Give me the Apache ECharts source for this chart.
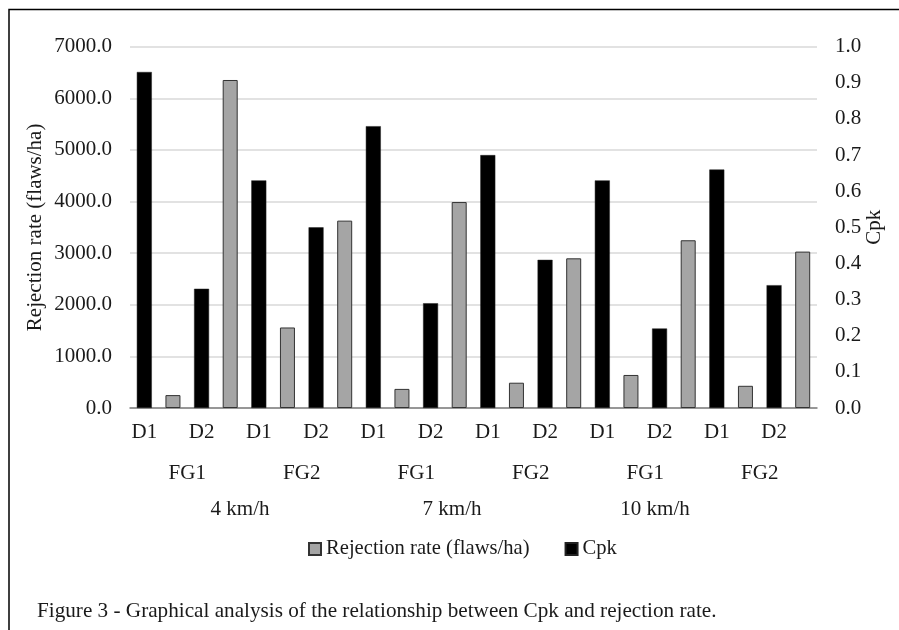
<!DOCTYPE html>
<html>
<head>
<meta charset="utf-8">
<script src="https://cdn.jsdelivr.net/npm/echarts@6/dist/echarts.min.js"></script>
<style>
html,body{margin:0;padding:0;background:#fff;}
#chart{width:899px;height:630px;}
</style>
</head>
<body>
<div id="chart"></div>
<script>
// ---- data ----
const dLabels = ['D1','D2','D1','D2','D1','D2','D1','D2','D1','D2','D1','D2'];
const fgLabels = ['FG1','FG2','FG1','FG2','FG1','FG2'];
const speedLabels = ['4 km/h','7 km/h','10 km/h'];
const rejection = [250, 6355, 1560, 3630, 370, 3990, 490, 2900, 640, 3250, 430, 3030];
const cpk = [0.93, 0.33, 0.63, 0.50, 0.78, 0.29, 0.70, 0.41, 0.63, 0.22, 0.66, 0.34];
const leftTicks = {min: 0, max: 7000, interval: 1000};
const rightTicks = {min: 0, max: 1, interval: 0.1};
const caption = 'Figure 3 - Graphical analysis of the relationship between Cpk and rejection rate.';

// each D label occupies two slots: Cpk bar then rejection bar
const slotLabels = [], cpkSlots = [], rejSlots = [];
dLabels.forEach((d, i) => {
  slotLabels.push(d); slotLabels.push('');
  cpkSlots.push(cpk[i]); cpkSlots.push(null);
  rejSlots.push(null); rejSlots.push(rejection[i]);
});

const FONT = '"Liberation Serif", "Times New Roman", serif';
const TXT = '#1a1a1a';
const FS = 21;

const chart = echarts.init(document.getElementById('chart'));
const speedX = [240, 452, 655];

chart.setOption({
  animation: false,
  textStyle: {fontFamily: FONT},
  grid: {left: 130, right: 82, top: 46.7, bottom: 222, containLabel: false},
  legend: {
    left: 308, top: 538.5, padding: 0,
    itemWidth: 12, itemHeight: 12, itemGap: 35,
    icon: 'rect',
    textStyle: {fontFamily: FONT, fontSize: 20.6, color: TXT},
    data: ['Rejection rate (flaws/ha)', 'Cpk']
  },
  xAxis: [
    {
      type: 'category', data: slotLabels, position: 'bottom', offset: 5,
      axisLine: {show: true, lineStyle: {color: '#7f7f7f', width: 1.5}},
      axisTick: {show: false},
      axisLabel: {interval: 0, margin: 8.5, fontFamily: FONT, fontSize: FS, color: TXT},
      splitLine: {show: false}
    },
    {
      type: 'category', data: fgLabels, position: 'bottom', offset: 45,
      axisLine: {show: false}, axisTick: {show: false},
      axisLabel: {interval: 0, margin: 9.5, fontFamily: FONT, fontSize: FS, color: TXT},
      splitLine: {show: false}
    }
  ],
  yAxis: [
    {
      type: 'value', min: leftTicks.min, max: leftTicks.max, interval: leftTicks.interval,
      name: 'Rejection rate (flaws/ha)', nameLocation: 'middle', nameGap: 84, nameRotate: 90,
      nameMoveOverlap: false,
      nameTextStyle: {fontFamily: FONT, fontSize: FS, color: TXT},
      axisLine: {show: false}, axisTick: {show: false},
      axisLabel: {margin: 18, fontFamily: FONT, fontSize: FS, color: TXT, formatter: v => v.toFixed(1)},
      splitLine: {show: true, lineStyle: {color: '#d9d9d9', width: 1.5}}
    },
    {
      type: 'value', min: rightTicks.min, max: rightTicks.max, interval: rightTicks.interval,
      position: 'right',
      name: 'Cpk', nameLocation: 'middle', nameGap: 47, nameRotate: 90,
      nameMoveOverlap: false,
      nameTextStyle: {fontFamily: FONT, fontSize: FS, color: TXT},
      axisLine: {show: false}, axisTick: {show: false},
      axisLabel: {margin: 18, fontFamily: FONT, fontSize: FS, color: TXT, formatter: v => v.toFixed(1)},
      splitLine: {show: false}
    }
  ],
  series: [
    {
      name: 'Rejection rate (flaws/ha)', type: 'bar', xAxisIndex: 0, yAxisIndex: 0,
      data: rejSlots, barWidth: 15, barGap: '-100%',
      itemStyle: {color: '#a5a5a5', borderColor: '#333333', borderWidth: 1}
    },
    {
      name: 'Cpk', type: 'bar', xAxisIndex: 0, yAxisIndex: 1,
      data: cpkSlots, barWidth: 15, barGap: '-100%',
      itemStyle: {color: '#000000', borderColor: '#222222', borderWidth: 0.5}
    }
  ],
  graphic: [
    {
      type: 'rect', silent: true,
      shape: {x: 9, y: 9.5, width: 950, height: 700},
      style: {fill: 'none', stroke: '#000', lineWidth: 1.5}
    }
  ].concat(speedLabels.map((s, i) => ({
    type: 'text', silent: true,
    x: speedX[i], y: 509,
    style: {text: s, fontFamily: FONT, fontSize: FS, fill: TXT, align: 'center', verticalAlign: 'middle'}
  }))).concat([{
    type: 'text', silent: true, x: 37, y: 611,
    style: {text: caption, fontFamily: FONT, fontSize: 21.2, fill: TXT, align: 'left', verticalAlign: 'middle'}
  }])
});
</script>
</body>
</html>
